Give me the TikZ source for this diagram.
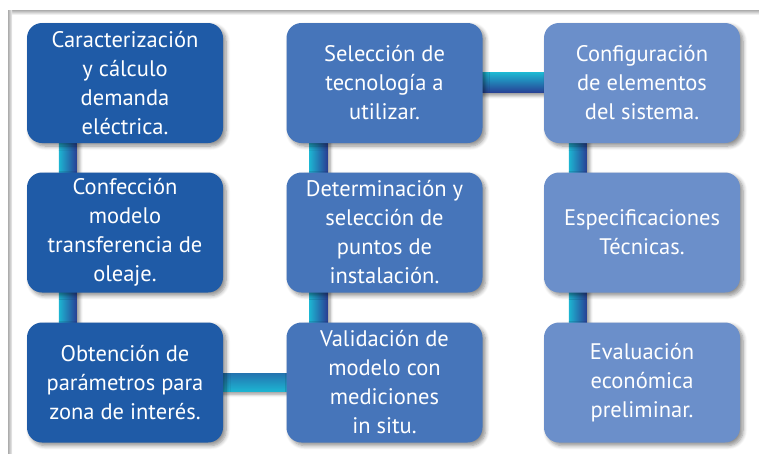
\documentclass[tikz,border=0pt]{standalone}
\usepackage{fontspec}
\setmainfont{PT Sans}
\usetikzlibrary{shadows.blur,calc,backgrounds}
\definecolor{cA}{HTML}{1F5BA7}
\definecolor{cB}{HTML}{4675BA}
\definecolor{cC}{HTML}{6B8FCA}
\definecolor{cyanC}{HTML}{1DB5D2}
\definecolor{darkC}{HTML}{283F94}
\tikzset{
  x=1pt, y=-1pt,
  box/.style={rounded corners=15pt, minimum width=196pt, minimum height=120pt,
    text=white, align=center, inner sep=2pt,
    font=\fontsize{22.5}{29}\selectfont,
    blur shadow={shadow xshift=3pt, shadow yshift=-3pt, shadow blur steps=6, shadow opacity=45, shadow blur radius=4pt}},
  boxA/.style={box, fill=cA},
  boxB/.style={box, fill=cB},
  boxC/.style={box, fill=cC},
  shd/.style={blur shadow={shadow xshift=3pt, shadow yshift=-3pt, shadow blur steps=5, shadow opacity=40, shadow blur radius=3pt}},
  vbar/.style={shd, left color=cyanC, right color=darkC},
  hbarA/.style={shd, top color=cyanC, bottom color=darkC},
  hbarB/.style={shd, top color=darkC!55!cyanC, bottom color=cyanC},
}
\begin{document}
\begin{tikzpicture}
\useasboundingbox (0,0) rectangle (759,463);
% frame
\shade[top color=gray!65, bottom color=gray!12] (8,10) rectangle (759,14);
\shade[left color=gray!65, right color=gray!12] (8,10) rectangle (12,453);

\path
  (125,83)    node[boxA] (a1) {Caracterización\\y cálculo\\demanda\\eléctrica.}
  (125,232.5) node[boxA] (a2) {Confección\\modelo\\transferencia de\\oleaje.}
  (125,382.5) node[boxA] (a3) {Obtención de\\parámetros para\\zona de interés.}
  (384.5,83)    node[boxB] (b1) {Selección de\\tecnología a\\utilizar.}
  (384.5,232.5) node[boxB] (b2) {Determinación y\\selección de\\puntos de\\instalación.}
  (384.5,382.5) node[boxB] (b3) {Validación de\\modelo con\\mediciones\\in situ.}
  (642,83)    node[boxC] (c1) {Configuración\\de elementos\\del sistema.}
  (642,232.5) node[boxC] (c2) {Especificaciones\\Técnicas.}
  (642,382.5) node[boxC] (c3) {Evaluación\\económica\\preliminar.};

\begin{pgfonlayer}{background}
  \shade[vbar] ($(a1.south west)+(32,-4)$) rectangle ($(a2.north west)+(50,4)$);
  \shade[vbar] ($(a2.south west)+(32,-4)$) rectangle ($(a3.north west)+(50,4)$);
  \shade[vbar] ($(b1.south west)+(23,-4)$) rectangle ($(b2.north west)+(41,4)$);
  \shade[vbar] ($(b2.south west)+(23,-4)$) rectangle ($(b3.north west)+(41,4)$);
  \shade[vbar] ($(c1.south west)+(25,-4)$) rectangle ($(c2.north west)+(43,4)$);
  \shade[vbar] ($(c2.south west)+(25,-4)$) rectangle ($(c3.north west)+(43,4)$);
  \shade[hbarA] ($(b1.north east)+(-4,50)$) rectangle ($(c1.north west)+(4,70)$);
  \shade[hbarB] ($(a3.north east)+(-4,51)$) rectangle ($(b3.north west)+(4,69)$);
\end{pgfonlayer}
\end{tikzpicture}
\end{document}
